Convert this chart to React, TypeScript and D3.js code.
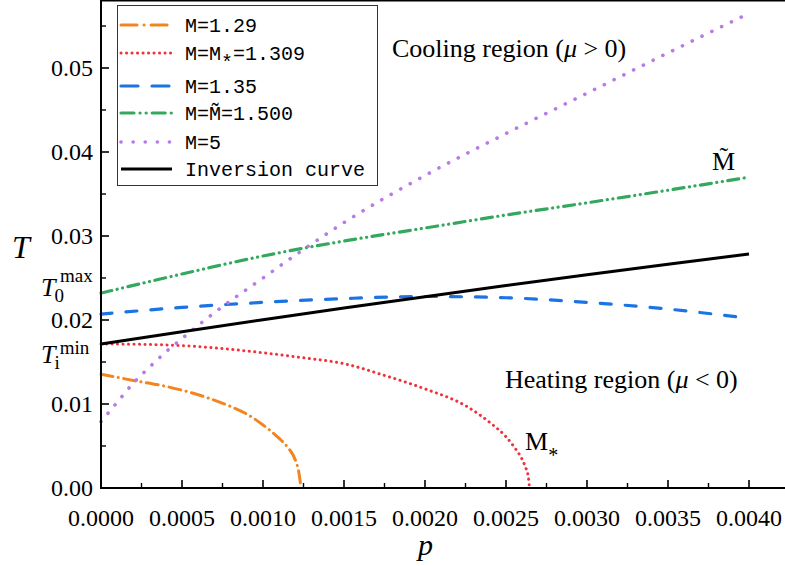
import React from 'react';
import * as d3 from 'd3';

// ---------- data ----------
const pGrid = [0, 0.0005, 0.001, 0.0015, 0.002, 0.0025, 0.003, 0.0035, 0.004];
const tInversion = [0.01714, 0.0186, 0.02003, 0.02142, 0.02278, 0.0241, 0.02539, 0.02664, 0.02786];
const tM135 = [0.0207, 0.0215, 0.0221, 0.02255, 0.0228, 0.02265, 0.0221, 0.0213, 0.0202];
const tM150 = [0.0232, 0.02548, 0.02762, 0.0294, 0.03095, 0.0325, 0.03395, 0.03545, 0.037];

const pM5 = [0, 0.0001, 0.0002, 0.0003, 0.0004, 0.0005, 0.00075, 0.001, 0.00125, 0.0015, 0.002, 0.0025, 0.003, 0.0035, 0.004];
const tM5 = [0.0079, 0.0102, 0.0125, 0.0144, 0.0162, 0.0178, 0.0216, 0.025, 0.0284, 0.0316, 0.0372, 0.0422, 0.047, 0.0518, 0.0565];

const pMstar = [0, 0.00025, 0.0005, 0.00075, 0.001, 0.00125, 0.0015, 0.00175, 0.002, 0.00225, 0.0024, 0.0025, 0.00255, 0.0026, 0.00262, 0.002638, 0.002645];
const tMstar = [0.01714, 0.0171, 0.01695, 0.0166, 0.0161, 0.0155, 0.0148, 0.0134, 0.0118, 0.0098, 0.0078, 0.0061, 0.0049, 0.0034, 0.0025, 0.0013, 0];

const pM129 = [0, 0.0002, 0.0004, 0.0006, 0.0008, 0.0009, 0.001, 0.0011, 0.00115, 0.0012, 0.00122, 0.001235];
const tM129 = [0.01355, 0.0128, 0.0121, 0.0111, 0.0097, 0.0088, 0.0075, 0.0059, 0.0049, 0.0033, 0.002, 0];

const xTickValues = [0, 0.0005, 0.001, 0.0015, 0.002, 0.0025, 0.003, 0.0035, 0.004];
const yTickValues = [0, 0.01, 0.02, 0.03, 0.04, 0.05];

// ---------- layout ----------
const W = 785;
const H = 566;
const X0 = 101;
const Y0 = 488;

const x = d3.scaleLinear().domain([0, 0.004]).range([X0, 749]);
const y = d3.scaleLinear().domain([0, 0.05]).range([Y0, 68]);
const xMaxVal = x.invert(W);
const yMaxVal = y.invert(0.5);

const serif = '"Liberation Serif", "Times New Roman", serif';
const mono = '"Liberation Mono", "DejaVu Sans Mono", monospace';

type Series = { key: string; p: number[]; t: number[]; color: string; width: number; dash: string; legendDash: string; cap: 'round' | 'butt' };

const series: Series[] = [
  { key: 'm129', p: pM129, t: tM129, color: '#F28522', width: 3, dash: '12 5.5 0.1 5.5', legendDash: '16 7 0.1 7', cap: 'round' },
  { key: 'mstar', p: pMstar, t: tMstar, color: '#F0323C', width: 3, dash: '0.1 5.4', legendDash: '0.1 5.4', cap: 'round' },
  { key: 'm135', p: pGrid, t: tM135, color: '#1C74E4', width: 3.2, dash: '11 14', legendDash: '17 14', cap: 'round' },
  { key: 'm150', p: pGrid, t: tM150, color: '#34A85E', width: 3.2, dash: '11 5.5 0.1 5.5 0.1 5.5', legendDash: '13 6 0.1 6 0.1 6', cap: 'round' },
  { key: 'm5', p: pM5, t: tM5, color: '#B57BE6', width: 3.6, dash: '0.1 10.8', legendDash: '0.1 12', cap: 'round' },
  { key: 'inv', p: pGrid, t: tInversion, color: '#000000', width: 3, dash: '', legendDash: '', cap: 'butt' },
];

const lineGen = d3
  .line<[number, number]>()
  .x((d) => x(d[0]))
  .y((d) => y(d[1]))
  .curve(d3.curveMonotoneX);

const legendRows = [25, 53, 86, 113, 142, 169];

export default function App() {
  const xMinor = d3.range(0.00025, xMaxVal, 0.0005);
  const xMajorAll = d3.range(0, xMaxVal, 0.0005);
  const yMinor = d3.range(0.005, yMaxVal, 0.01);
  const fx = d3.format('.4f');
  const fy = d3.format('.2f');

  return (
    <svg width={W} height={H} style={{ position: 'absolute', left: 0, top: 0, background: '#fff' }}>
      <rect x={0} y={0} width={W} height={H} fill="#fff" />

      {/* curves */}
      {series.map((s) => (
        <path
          key={s.key}
          d={lineGen(s.p.map((p, i) => [p, s.t[i]] as [number, number])) || ''}
          fill="none"
          stroke={s.color}
          strokeWidth={s.width}
          strokeDasharray={s.dash || undefined}
          strokeLinecap={s.cap}
          strokeLinejoin="round"
        />
      ))}

      {/* axes frame */}
      <line x1={X0} y1={0} x2={X0} y2={Y0} stroke="#000" strokeWidth={2} />
      <line x1={X0 - 1} y1={Y0} x2={W} y2={Y0} stroke="#000" strokeWidth={2} />
      <line x1={X0} y1={0.75} x2={W} y2={0.75} stroke="#000" strokeWidth={1.5} />

      {/* x ticks */}
      {xMajorAll.map((v) => (
        <line key={'xM' + v} x1={x(v)} x2={x(v)} y1={Y0} y2={Y0 - 8} stroke="#000" strokeWidth={1.6} />
      ))}
      {xMinor.map((v) => (
        <line key={'xm' + v} x1={x(v)} x2={x(v)} y1={Y0} y2={Y0 - 5} stroke="#000" strokeWidth={1.4} />
      ))}
      {xTickValues.map((v) => (
        <text key={'xl' + v} x={x(v)} y={526} textAnchor="middle" fontFamily={serif} fontSize={24} fill="#000">
          {fx(v)}
        </text>
      ))}

      {/* y ticks */}
      {yTickValues.map((v) => (
        <line key={'yM' + v} x1={X0} x2={X0 + 8} y1={y(v)} y2={y(v)} stroke="#000" strokeWidth={1.6} />
      ))}
      {yMinor.map((v) => (
        <line key={'ym' + v} x1={X0} x2={X0 + 5} y1={y(v)} y2={y(v)} stroke="#000" strokeWidth={1.4} />
      ))}
      {yTickValues.map((v) => (
        <text key={'yl' + v} x={93} y={y(v) + 8} textAnchor="end" fontFamily={serif} fontSize={24} fill="#000">
          {fy(v)}
        </text>
      ))}

      {/* axis titles */}
      <text x={12} y={258} fontFamily={serif} fontStyle="italic" fontSize={32} fill="#000">T</text>
      <text x={418} y={555} fontFamily={serif} fontStyle="italic" fontSize={30} fill="#000">p</text>

      {/* special y labels */}
      <text x={41} y={296} fontFamily={serif} fontSize={26} fill="#000">
        <tspan fontStyle="italic">T</tspan>
        <tspan fontSize={19} dx={-1} dy={6}>0</tspan>
        <tspan fontSize={19} dx={-4} dy={-20}>max</tspan>
      </text>
      <text x={41} y={363} fontFamily={serif} fontSize={26} fill="#000">
        <tspan fontStyle="italic">T</tspan>
        <tspan fontSize={19} dx={-1} dy={6}>i</tspan>
        <tspan fontSize={19} dx={0} dy={-15}>min</tspan>
      </text>

      {/* annotations */}
      <text x={392} y={57} fontFamily={serif} fontSize={26} fill="#000">
        Cooling region (<tspan fontStyle="italic">μ</tspan> &gt; 0)
      </text>
      <text x={505} y={388} fontFamily={serif} fontSize={26} fill="#000">
        Heating region (<tspan fontStyle="italic">μ</tspan> &lt; 0)
      </text>
      <text x={712} y={170} fontFamily={serif} fontSize={26} fill="#000">{'M\u0303'}</text>
      <text x={525} y={450} fontFamily={serif} fontSize={26} fill="#000">
        M<tspan fontSize={20} dy={12}>*</tspan>
      </text>

      {/* legend */}
      <rect x={117.5} y={5.5} width={260} height={180} fill="#fff" stroke="#333" strokeWidth={1} />
      {series.map((s, i) => (
        <line
          key={'lg' + s.key}
          x1={121}
          x2={172}
          y1={legendRows[i]}
          y2={legendRows[i]}
          stroke={s.color}
          strokeWidth={s.width}
          strokeDasharray={s.legendDash || undefined}
          strokeLinecap={s.cap}
        />
      ))}
      <text x={185} y={legendRows[0] + 7} fontFamily={mono} fontSize={20} fill="#000">M=1.29</text>
      <text x={185} y={legendRows[1] + 7} fontFamily={mono} fontSize={20} fill="#000">
        M=M<tspan dy={9}>*</tspan><tspan dy={-9}>=1.309</tspan>
      </text>
      <text x={185} y={legendRows[2] + 7} fontFamily={mono} fontSize={20} fill="#000">M=1.35</text>
      <text x={185} y={legendRows[3] + 7} fontFamily={mono} fontSize={20} fill="#000">{'M=M\u0303=1.500'}</text>
      <text x={185} y={legendRows[4] + 7} fontFamily={mono} fontSize={20} fill="#000">M=5</text>
      <text x={185} y={legendRows[5] + 7} fontFamily={mono} fontSize={20} fill="#000">Inversion curve</text>
    </svg>
  );
}
